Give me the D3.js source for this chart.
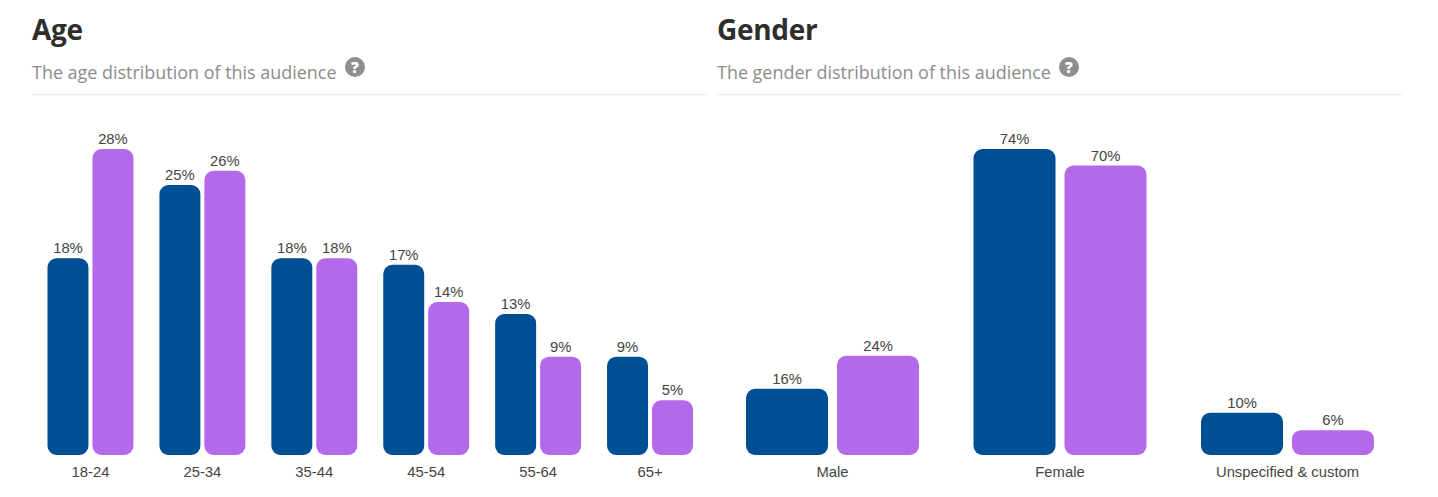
<!DOCTYPE html>
<html><head><meta charset="utf-8">
<script src="https://cdn.jsdelivr.net/npm/d3@7/dist/d3.min.js"></script>
<style>html,body{margin:0;padding:0;background:#fff}svg{display:block}</style></head>
<body><svg id="c" width="1438" height="497"></svg>
<script>
const ageCategories = ["18-24","25-34","35-44","45-54","55-64","65+"];
const ageBlue = [18,24.7,18,17.4,12.9,9];
const agePurple = [28,26,18,14,9,5];
const genderCategories = ["Male","Female","Unspecified & custom"];
const genderBlue = [16,74,10.2];
const genderPurple = [24,70,6];
const panels = [
 {title:"Age",sub:"The age distribution of this audience",cats:ageCategories,a:ageBlue,b:agePurple,left:32,right:707,range:[47.5,693],outerGap:26/112,innerGap:4/45,max:28,icon:355},
 {title:"Gender",sub:"The gender distribution of this audience",cats:genderCategories,a:genderBlue,b:genderPurple,left:717,right:1402,range:[746,1374],outerGap:54.5/227.5,innerGap:9/91,max:74,icon:1069}
];
const BLUE="#004f94",PURPLE="#b469ea",INK="#444",BASE=455,TOP=149,R=9;
const svg=d3.select("#c");
function barPath(x,w,y0,y1,r){r=Math.min(r,(y0-y1)/2,w/2);const p=d3.path();
 p.moveTo(x+r,y1);p.lineTo(x+w-r,y1);p.arcTo(x+w,y1,x+w,y1+r,r);p.lineTo(x+w,y0-r);p.arcTo(x+w,y0,x+w-r,y0,r);
 p.lineTo(x+r,y0);p.arcTo(x,y0,x,y0-r,r);p.lineTo(x,y1+r);p.arcTo(x,y1,x+r,y1,r);p.closePath();return p.toString();}
panels.forEach(P=>{
 const g=svg.append("g");
 g.append("text").attr("x",P.left).attr("y",40).text(P.title).attr("font-family","Open Sans").attr("font-weight",700).attr("font-size",28).attr("fill","#2e2e2e").attr("letter-spacing",-0.3);
 g.append("text").attr("x",P.left).attr("y",79).text(P.sub).attr("font-family","Open Sans").attr("font-size",17.95).attr("fill","#8c8c8c");
 g.append("line").attr("x1",P.left).attr("x2",P.right).attr("y1",94.5).attr("y2",94.5).attr("stroke","#ececec");
 const ic=g.append("g").attr("transform",`translate(${P.icon},67)`);
 ic.append("circle").attr("r",10).attr("fill","#8e8e8e");
 ic.append("text").attr("text-anchor","middle").attr("y",5.5).text("?").attr("font-family","Open Sans").attr("font-weight",800).attr("font-size",15.5).attr("fill","#fff");
 const x0=d3.scaleBand().domain(P.cats).range(P.range).paddingInner(P.outerGap).paddingOuter(0);
 const x1=d3.scaleBand().domain(["a","b"]).range([0,x0.bandwidth()]).paddingInner(P.innerGap);
 const y=d3.scaleLinear().domain([0,P.max]).range([BASE,TOP]);
 const axis=d3.axisBottom(x0).tickSize(0).tickPadding(0);
 const ax=g.append("g").attr("transform",`translate(0,${BASE+10})`).call(axis);
 ax.select(".domain").remove();
 ax.selectAll("text").attr("font-family","Liberation Sans").attr("font-size",14.8).attr("fill",INK).attr("dy","0.8em");
 [["a",P.a,BLUE],["b",P.b,PURPLE]].forEach(([k,vals,col])=>{
  const grp=g.append("g").selectAll("g").data(P.cats.map((c,i)=>({c,v:vals[i]}))).join("g");
  grp.append("path").attr("d",d=>barPath(x0(d.c)+x1(k),x1.bandwidth(),y(0),y(d.v),R)).attr("fill",col);
  grp.append("text").attr("x",d=>x0(d.c)+x1(k)+x1.bandwidth()/2).attr("y",d=>y(d.v)-5).attr("text-anchor","middle")
   .text(d=>Math.round(d.v)+"%").attr("font-family","Liberation Sans").attr("font-size",14.8).attr("fill",INK);
 });
});
</script></body></html>
